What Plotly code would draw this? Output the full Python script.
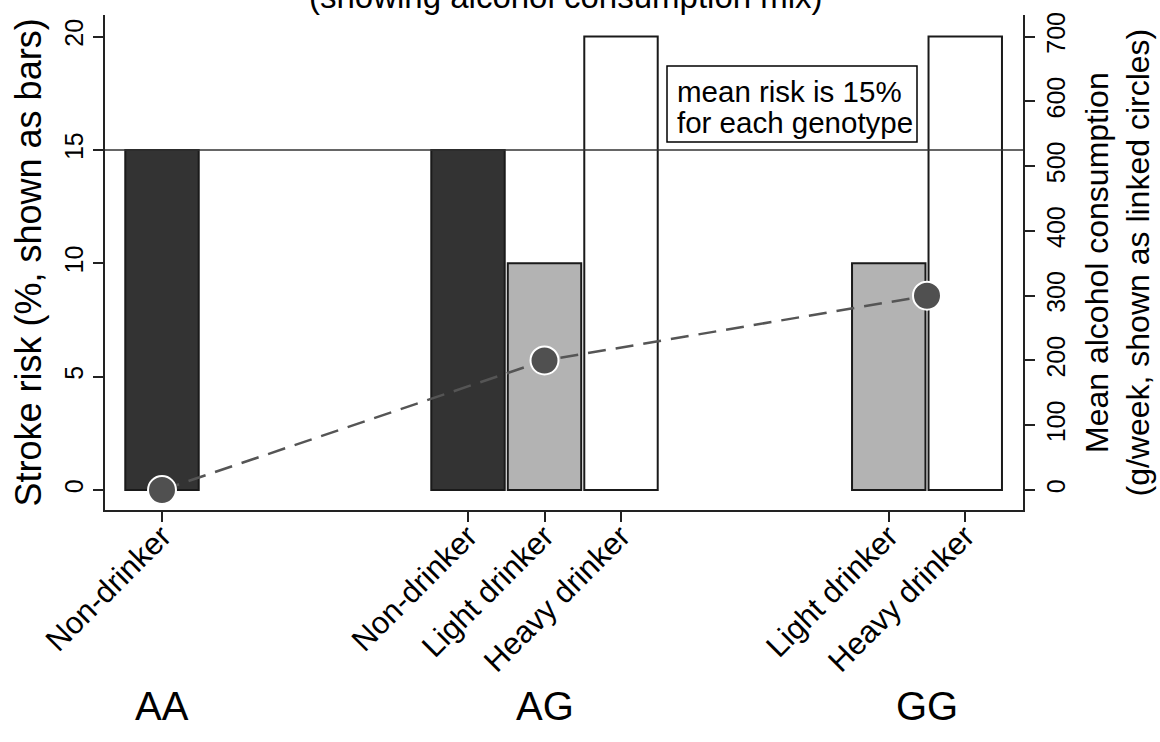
import plotly.graph_objects as go

# ---- data ----
genotypes = ["AA", "AG", "GG"]
bar_genotype = ["AA", "AG", "AG", "AG", "GG", "GG"]
bar_drinker = ["Non-drinker", "Non-drinker", "Light drinker", "Heavy drinker",
               "Light drinker", "Heavy drinker"]
stroke_risk = [15, 15, 10, 20, 10, 20]
mean_alcohol = [0, 200, 300]          # g/week per genotype
mean_risk = 15
note_lines = ["mean risk is 15%", "for each genotype"]
left_ticks = [0, 5, 10, 15, 20]
right_ticks = [0, 100, 200, 300, 400, 500, 600, 700]

# ---- layout helpers (positions) ----
group_gap = 5
group_center = {g: i * group_gap for i, g in enumerate(genotypes)}
bar_x = []
for g in genotypes:
    idx = [i for i, bg in enumerate(bar_genotype) if bg == g]
    n = len(idx)
    for k, i in enumerate(idx):
        bar_x.append((i, group_center[g] + (k - (n - 1) / 2)))
bar_x = [p for _, p in sorted(bar_x)]

fill = {"Non-drinker": "#333333", "Light drinker": "#b3b3b3", "Heavy drinker": "#ffffff"}
FONT = "Liberation Sans, Arial, sans-serif"

fig = go.Figure()
for cat in ["Non-drinker", "Light drinker", "Heavy drinker"]:
    xs = [bar_x[i] for i in range(len(stroke_risk)) if bar_drinker[i] == cat]
    ys = [stroke_risk[i] for i in range(len(stroke_risk)) if bar_drinker[i] == cat]
    fig.add_trace(go.Bar(x=xs, y=ys, width=0.96, name=cat,
                         marker=dict(color=fill[cat], line=dict(color="#1a1a1a", width=2)),
                         showlegend=False))

fig.add_trace(go.Scatter(x=[group_center[g] for g in genotypes], y=mean_alcohol,
                         yaxis="y2", mode="lines+markers",
                         line=dict(color="#555555", width=2.5, dash="18px,10px"),
                         marker=dict(size=28, color="#505050", line=dict(color="white", width=2)),
                         showlegend=False, cliponaxis=False))

ppu = 22.67
y_lo = -20 / ppu
y_hi = 475 / ppu
slot = 76.5
x_lo = -57 / slot
x_hi = 861 / slot


def px_x(p):
    return (p - 162) / slot


def px_y(p):
    return (490 - p) / ppu


fig.add_shape(type="line", xref="paper", yref="y", x0=0, x1=1, y0=mean_risk, y1=mean_risk,
              line=dict(color="#333333", width=1.5))
fig.add_shape(type="rect", xref="x", yref="y", x0=px_x(667), x1=px_x(917),
              y0=px_y(142), y1=px_y(66), line=dict(color="black", width=1.5),
              fillcolor="white", layer="above")

annotations = [
    dict(text="(showing alcohol consumption mix)", xref="paper", yref="paper",
         x=(566 - 105) / 918, y=1 + (15 - 17) / 495, xanchor="center", yanchor="bottom",
         showarrow=False, font=dict(size=33, color="black", family=FONT)),
    dict(text="Stroke risk (%, shown as bars)", xref="paper", yref="paper",
         x=(28 - 105) / 918, y=0.5, xanchor="center", yanchor="middle", textangle=-90,
         showarrow=False, font=dict(size=36, color="black", family=FONT)),
    dict(text="Mean alcohol consumption<br>(g/week, shown as linked circles)",
         xref="paper", yref="paper", x=(1117 - 105) / 918, y=0.5,
         xanchor="center", yanchor="middle", textangle=-90,
         showarrow=False, font=dict(size=32, color="black", family=FONT)),
]
for j, line in enumerate(note_lines):
    annotations.append(dict(text=line, xref="x", yref="y", x=px_x(675),
                            y=px_y(91 + 31 * j), xanchor="left", yanchor="middle",
                            showarrow=False, font=dict(size=29.5, color="black", family=FONT)))
for g in genotypes:
    annotations.append(dict(text=g, xref="x", yref="paper", x=group_center[g],
                            y=(510 - 706) / 495, xanchor="center", yanchor="middle",
                            showarrow=False, font=dict(size=40, color="black", family=FONT)))

axis_common = dict(ticks="outside", ticklen=10, tickwidth=1.5, tickcolor="#222",
                   showline=True, linecolor="#222", linewidth=1.5, showgrid=False,
                   zeroline=False, automargin=False)

fig.update_layout(
    width=1160, height=742,
    margin=dict(l=105, r=137, t=15, b=232, autoexpand=False),
    paper_bgcolor="white", plot_bgcolor="white",
    barmode="overlay",
    font=dict(family=FONT, color="black"),
    xaxis=dict(range=[x_lo, x_hi], tickmode="array", tickvals=bar_x, ticktext=bar_drinker,
               tickangle=-45, tickfont=dict(size=31), ticklabelstandoff=-16, **axis_common),
    yaxis=dict(range=[y_lo, y_hi], tickvals=left_ticks, tickangle=-90,
               tickfont=dict(size=25), **axis_common),
    yaxis2=dict(range=[y_lo * 35, y_hi * 35], tickvals=right_ticks, overlaying="y",
                side="right", tickangle=-90, tickfont=dict(size=25), **axis_common),
    annotations=annotations,
)

fig.write_html("out.html", config={"displayModeBar": False},
               post_script="document.body.style.margin='0';document.body.style.overflow='hidden';")
